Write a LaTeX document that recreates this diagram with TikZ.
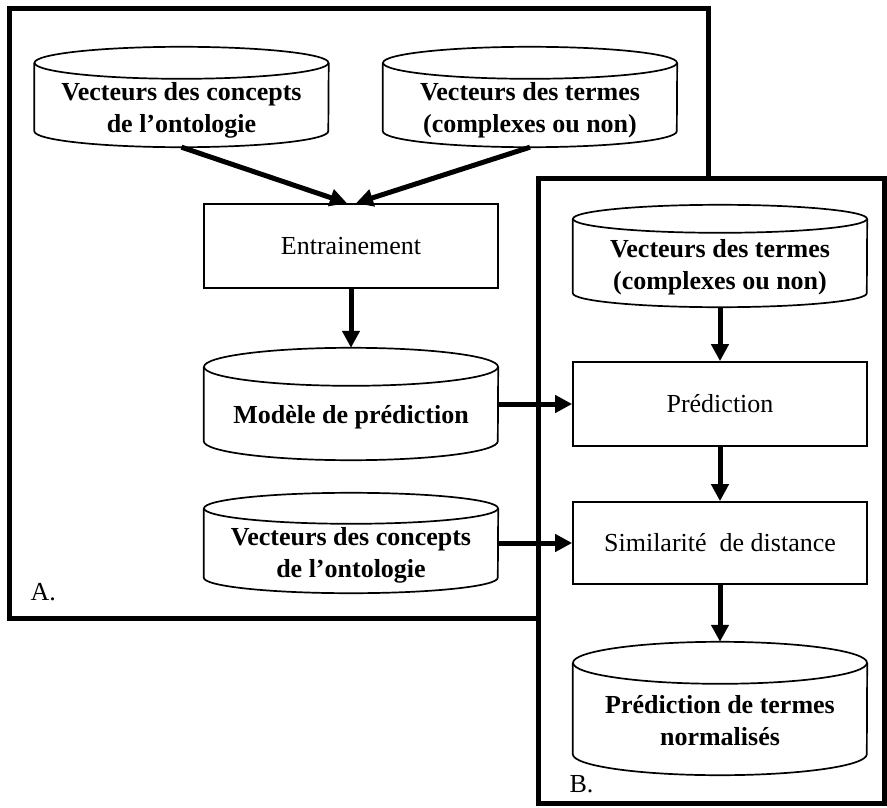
\documentclass[tikz,border=0pt]{standalone}
\usepackage{fontspec}
\setmainfont{Liberation Serif}
\usetikzlibrary{arrows.meta}

\begin{document}
\begin{tikzpicture}[x=1pt,y=-1pt,font=\fontsize{26}{32}\selectfont,>={Triangle[length=17pt,width=17pt]}]
% Styles: frames, steps, data stores and arrows
\tikzstyle{frame}=[draw,line width=5pt,fill=white,inner sep=0];
\tikzstyle{process}=[draw,line width=1.7pt,fill=white,minimum width=294pt,minimum height=84pt,inner sep=0];
\tikzstyle{store}=[inner sep=0,minimum width=294pt,align=center,text depth=0pt,font=\bfseries\fontsize{26}{32}\selectfont];
\tikzstyle{outline}=[line width=1.7pt];
\tikzstyle{flow}=[->,line width=5pt];
\useasboundingbox (0,0) rectangle (887,808);
% The two frames
\node(frameA)[frame,minimum width=699pt,minimum height=609pt] at (358.5,313.5){};
\node(frameB)[frame,minimum width=346pt,minimum height=625pt] at (711,490.5){};
\node(labA)[anchor=base west] at (27,600){A.};
\node(labB)[anchor=base west] at (566,792){B.};
% Part A
\node(conc)[store,minimum height=100pt,text height=70pt] at (181.5,97){Vecteurs des concepts\\de l’ontologie};
\node(term)[store,minimum height=100pt,text height=70pt] at (530,97){Vecteurs des termes\\(complexes ou non)};
\node(train)[process] at (351,246){Entrainement};
\node(model)[store,minimum height=112pt,text height=38pt] at (351,404){Modèle de prédiction};
\node(concB)[store,minimum height=100pt,text height=68pt] at (351,543){Vecteurs des concepts\\de l’ontologie};
% Part B
\node(termB)[store,minimum height=102pt,text height=66pt] at (720,256){Vecteurs des termes\\(complexes ou non)};
\node(pred)[process] at (720,404){Prédiction};
\node(simil)[process,minimum height=82pt] at (720,543){Similarité\ \ de distance};
\node(result)[store,minimum height=133pt,text height=73pt] at (720,708.5){Prédiction de termes\\normalisés};
% Cylinder outlines round the stores (name/radius of the cap)
\foreach \n/\r in {conc/16,term/16,model/19,concB/15.5,termB/14,result/21}{
\draw[outline]([yshift=-\r pt]\n.north) ellipse[x radius=147,y radius=\r];
\draw[outline]([yshift=-\r pt]\n.north west)--([yshift=\r pt]\n.south west)
arc[start angle=180,end angle=0,x radius=147,y radius=\r]--([yshift=-\r pt]\n.north east);
}
% The arrows
\draw[flow](conc.south)--([xshift=-4pt]train.north);
\draw[flow](term.south)--([xshift=5pt]train.north);
\draw[flow](train.south)--(model.north);
\draw[flow](model.east)--(pred.west);
\draw[flow](concB.east)--(simil.west);
\draw[flow](termB.south)--(pred.north);
\draw[flow](pred.south)--(simil.north);
\draw[flow](simil.south)--(result.north);
\end{tikzpicture}
\end{document}
